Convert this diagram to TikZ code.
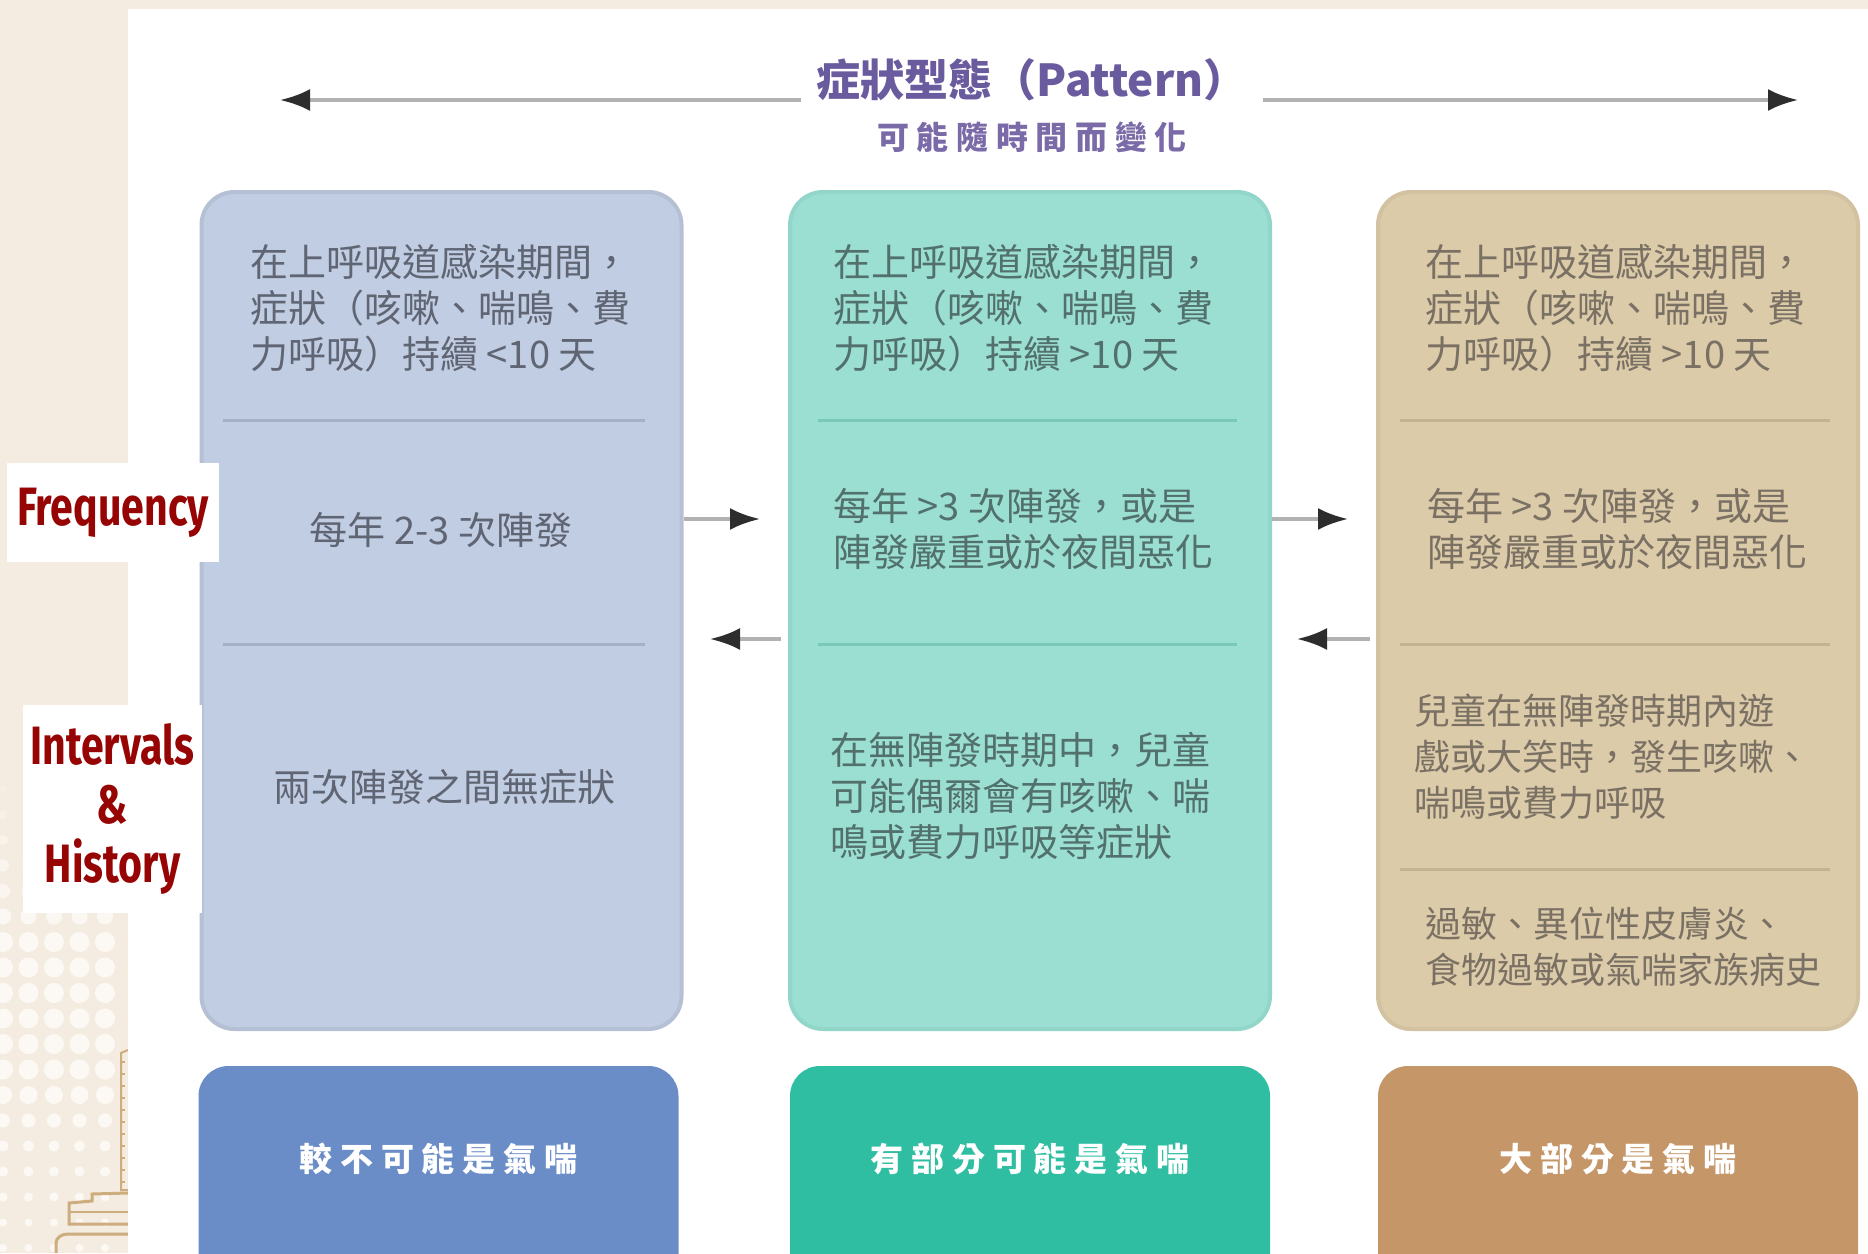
\documentclass[tikz,border=0pt]{standalone}
\usepackage{fontspec}
\setmainfont{Noto Sans CJK TC}
\newfontfamily\espacee{Noto Sans CJK TC}[LetterSpace=24]
\newfontfamily\etiquette{Fira Sans}[FakeStretch=0.76]
\usetikzlibrary{arrows.meta}

\definecolor{beige}{RGB}{244,236,225}
\definecolor{pois}{RGB}{252,249,244}
\definecolor{batiment}{RGB}{205,172,125}
\definecolor{rouge}{RGB}{150,4,4}
\definecolor{violet}{RGB}{106,90,158}
\definecolor{violetclair}{RGB}{122,106,168}
\definecolor{trait}{RGB}{178,178,178}
\definecolor{pointe}{RGB}{45,45,45}
\definecolor{colA}{RGB}{193,205,227}
\definecolor{colB}{RGB}{155,223,211}
\definecolor{colC}{RGB}{220,203,169}
\definecolor{bordA}{RGB}{182,192,212}
\definecolor{bordB}{RGB}{145,214,201}
\definecolor{bordC}{RGB}{210,194,161}
\definecolor{sepA}{RGB}{165,177,199}
\definecolor{sepB}{RGB}{122,200,186}
\definecolor{sepC}{RGB}{196,178,144}
\definecolor{texteA}{RGB}{95,101,115}
\definecolor{texteB}{RGB}{82,112,108}
\definecolor{texteC}{RGB}{122,113,100}
\definecolor{basA}{RGB}{106,140,199}
\definecolor{basB}{RGB}{48,190,163}
\definecolor{basC}{RGB}{196,150,104}

\begin{document}
\begin{tikzpicture}[x=0.5pt,y=-0.5pt]
%styles des nœuds
\tikzstyle{colonne}=[rectangle, rounded corners=16.5pt, minimum width=240pt, minimum height=418.5pt, line width=2pt]
\tikzstyle{bas}=[rectangle, rounded corners=15pt, minimum width=240pt, minimum height=117pt]
\tikzstyle{texte}=[anchor=west, align=left, inner sep=0pt, font=\fontsize{19}{23}\selectfont]
\tikzstyle{texteM}=[texte, anchor=center, align=center]
\tikzstyle{petit}=[texte, font=\fontsize{18}{23}\selectfont]
\tikzstyle{libelle}=[rectangle, fill=white, text=rouge, align=center, font=\etiquette\bfseries\fontsize{27}{29.5}\selectfont]
\tikzstyle{resultat}=[text=white, inner sep=0pt, font=\espacee\bfseries\fontsize{16.5}{18}\selectfont]
\tikzstyle{titre}=[text=violet, inner xsep=7.5pt, font=\bfseries\fontsize{22}{24}\selectfont]
\tikzstyle{sous}=[text=violetclair, font=\espacee\bfseries\fontsize{16}{18}\selectfont]
\tikzstyle{separation}=[line width=1.5pt]
\tikzstyle{fleche}=[-{Latex[length=15pt, width=11pt, color=pointe]}, draw=trait, line width=2pt]

%fond
\clip (0,0) rectangle (1868,1253);
\fill[beige] (0,0) rectangle (1868,1253);
\foreach \r [count=\i from 0, evaluate=\i as \op using {min(1,0.3+0.12*\i)}] in {3,4,5,6,7,8,10,10,10,10,10,10,9,7,5.5,5,4.5,4,4}
  \foreach \x in {3,28.5,54,79.5,105}
    \fill[pois, opacity=\op] (\x,789+25.5*\i) circle[radius={\r*0.5pt}];
\draw[batiment, line width=1pt] (128,1050) -- (121,1053) -- (121,1190) -- (128,1190);
\foreach \y in {1062,1074,...,1182}
  \draw[batiment, line width=1pt] (121,\y) -- (125,\y);
\draw[batiment, line width=1.5pt] (128,1193) -- (92,1194) -- (92,1201) -- (69,1203) -- (69,1224) -- (128,1224);
\draw[batiment, line width=1pt] (69,1212) -- (128,1212);
\draw[batiment, line width=1.5pt] (56,1253) -- (56,1243) to[out=90,in=180] (68,1234) -- (128,1234);
\fill[white] (128,9) rectangle (1868,1253);

%colonnes
\node[colonne, fill=colA, draw=bordA] (colA) at (441.5,610.5) {};
\node[colonne, fill=colB, draw=bordB] (colB) at (1030,610.5) {};
\node[colonne, fill=colC, draw=bordC] (colC) at (1618,610.5) {};
\draw[separation, sepA] (223,420) -- (645,420);
\draw[separation, sepA] (223,644) -- (645,644);
\draw[separation, sepB] (818,420) -- (1237,420);
\draw[separation, sepB] (818,644) -- (1237,644);
\draw[separation, sepC] (1400,420) -- (1830,420);
\draw[separation, sepC] (1400,644) -- (1830,644);
\draw[separation, sepC] (1400,869) -- (1830,869);

\node[bas, fill=basA] (basA) at (438.5,1183) {};
\node[bas, fill=basB] (basB) at (1030,1183) {};
\node[bas, fill=basC] (basC) at (1618,1183) {};

%textes
\node[texte, text=texteA] (a1) at (250,308) {在上呼吸道感染期間，\\症狀（咳嗽、喘鳴、費\\力呼吸）持續 <10 天};
\node[texteM, text=texteA] (a2) at (441,530) {每年 2-3 次陣發};
\node[texteM, text=texteA] (a3) at (444,787) {兩次陣發之間無症狀};

\node[texte, text=texteB] (b1) at (833,308) {在上呼吸道感染期間，\\症狀（咳嗽、喘鳴、費\\力呼吸）持續 >10 天};
\node[texte, text=texteB] (b2) at (833,529) {每年 >3 次陣發，或是\\陣發嚴重或於夜間惡化};
\node[texte, text=texteB] (b3) at (830,796) {在無陣發時期中，兒童\\可能偶爾會有咳嗽、喘\\鳴或費力呼吸等症狀};

\node[texte, text=texteC] (c1) at (1425,308) {在上呼吸道感染期間，\\症狀（咳嗽、喘鳴、費\\力呼吸）持續 >10 天};
\node[texte, text=texteC] (c2) at (1427,529) {每年 >3 次陣發，或是\\陣發嚴重或於夜間惡化};
\node[petit, text=texteC] (c3) at (1414,757) {兒童在無陣發時期內遊\\戲或大笑時，發生咳嗽、\\喘鳴或費力呼吸};
\node[petit, text=texteC] (c4) at (1425,947) {過敏、異位性皮膚炎、\\食物過敏或氣喘家族病史};

\node[resultat] (rA) at (438.5,1159) {較不可能是氣喘};
\node[resultat] (rB) at (1030,1159) {有部分可能是氣喘};
\node[resultat] (rC) at (1618,1159) {大部分是氣喘};

%titre
\node[titre] (titre) at (1032,80) {症狀型態（Pattern）};
\node[sous] (sous) at (1032,137) {可能隨時間而變化};

%flèches
\coordinate (gauche) at (280,100);
\coordinate (droite) at (1798,100);
\draw[fleche] (titre.west |- gauche) -- (gauche);
\draw[fleche] (titre.east |- droite) -- (droite);
\coordinate (f1) at (760,519);
\coordinate (f2) at (710,639);
\coordinate (f3) at (1348,519);
\coordinate (f4) at (1297,639);
\draw[fleche] (colA.east |- f1) -- (f1);
\draw[fleche, shorten <=3.5pt] (colB.west |- f2) -- (f2);
\draw[fleche] (colB.east |- f3) -- (f3);
\draw[fleche, shorten <=3pt] (colC.west |- f4) -- (f4);

%étiquettes
\node[libelle, minimum width=106pt, minimum height=49.5pt] (freq) at (113,512.5) {Frequency};
\node[libelle, minimum width=89.5pt, minimum height=104pt] (hist) at (112.5,809) {Intervals\\\&\\History};
\end{tikzpicture}
\end{document}
